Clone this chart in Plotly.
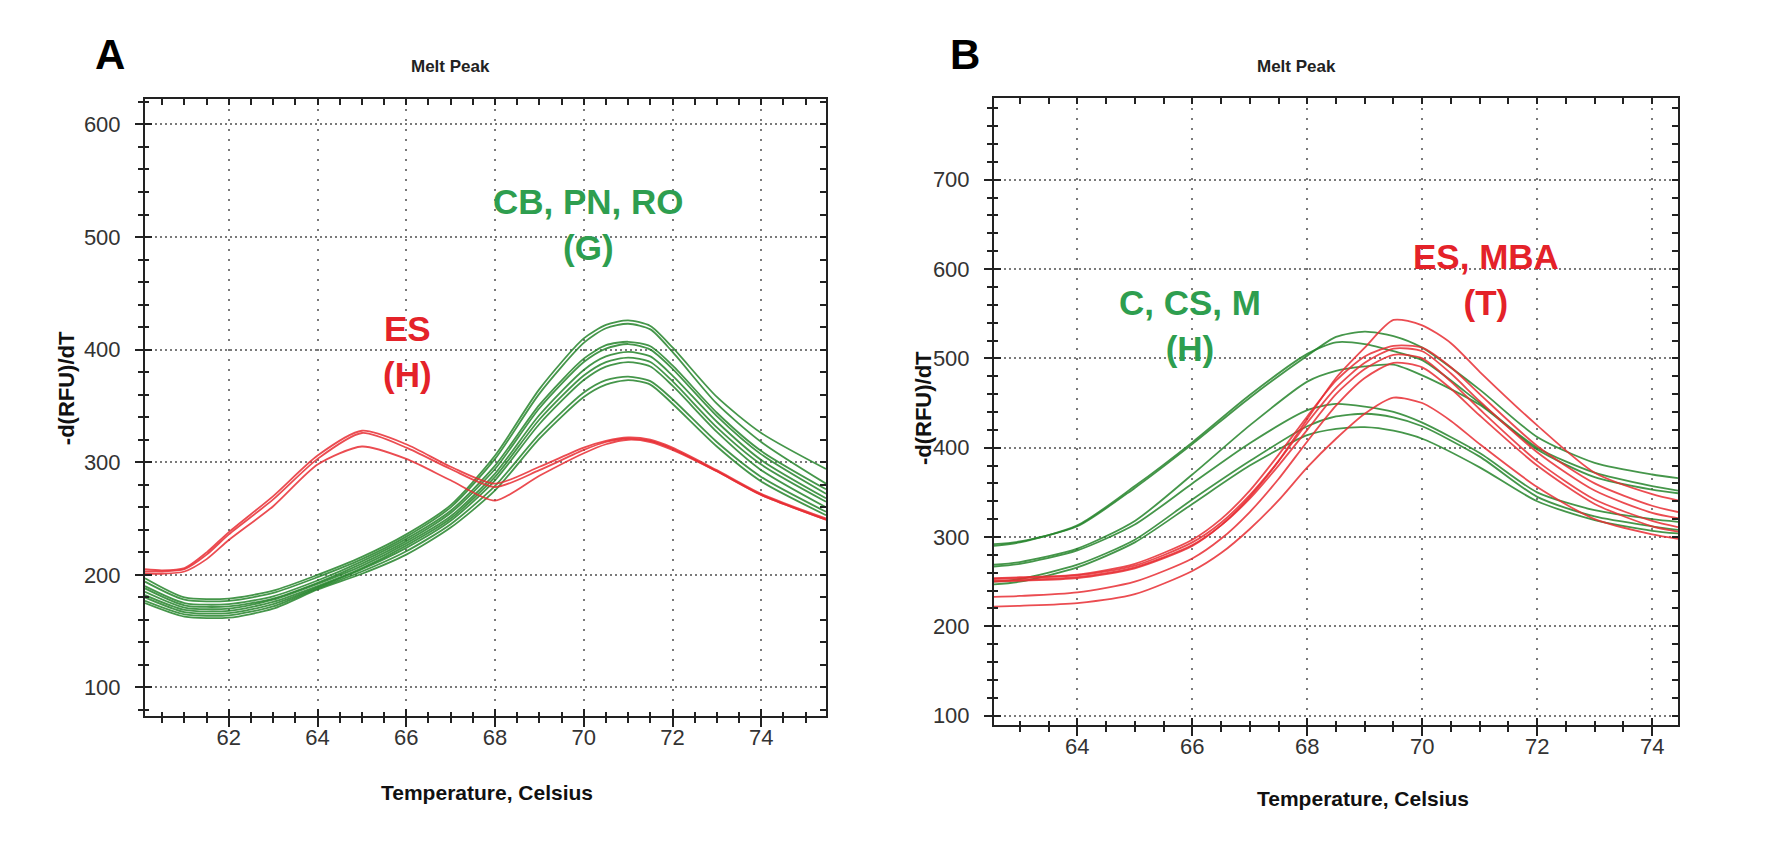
import plotly.graph_objects as go

W, H = 1786, 858

# ---------------- Panel A data ----------------
tempA_green = [60.11, 61.0, 62, 63, 64, 65, 66, 67, 68, 69, 70, 70.5, 71, 71.5, 72, 73, 74, 75.46]
greenA_1 = [197, 180, 179, 186, 200, 216, 236, 262, 306, 365, 410, 422, 426, 421, 402, 358, 326, 294]
greenA_2 = [194, 178, 177, 184, 198, 214, 234, 260, 303, 361, 406, 419, 423, 418, 398, 352, 318, 281]
greenA_3 = [190, 175, 174, 181, 195, 212, 232, 257, 297, 351, 392, 404, 407, 403, 386, 344, 310, 276]
greenA_4 = [188, 173, 172, 179, 193, 210, 230, 255, 294, 348, 389, 401, 405, 400, 383, 341, 307, 272]
greenA_5 = [185, 171, 170, 178, 192, 208, 228, 252, 290, 342, 382, 394, 398, 394, 377, 336, 302, 268]
greenA_6 = [182, 169, 168, 176, 190, 206, 226, 250, 287, 338, 377, 389, 393, 389, 372, 331, 298, 265]
greenA_7 = [180, 167, 166, 174, 189, 205, 224, 248, 284, 334, 373, 385, 389, 385, 368, 327, 293, 260]
greenA_8 = [177, 165, 164, 172, 188, 203, 221, 245, 279, 325, 362, 373, 376, 372, 356, 318, 287, 256]
greenA_9 = [175, 163, 162, 170, 187, 201, 218, 242, 275, 321, 358, 369, 373, 369, 352, 314, 283, 253]

tempA_red = [60.11, 60.5, 61, 61.5, 62, 63, 64, 65, 66, 67, 68, 69, 70, 70.5, 71, 71.5, 72, 73, 74, 75.46]
redA_1 = [205, 204, 206, 220, 238, 270, 306, 328, 316, 296, 281, 296, 313, 319, 322, 320, 313, 293, 272, 250]
redA_2 = [203, 203, 205, 218, 236, 267, 303, 326, 313, 294, 278, 293, 311, 318, 321, 319, 312, 292, 271, 249]
redA_3 = [201, 201, 203, 214, 231, 261, 298, 314, 303, 284, 266, 288, 308, 316, 320, 318, 311, 292, 271, 249]

# ---------------- Panel B data ----------------
tempB_green = [62.55, 63, 64, 65, 66, 67, 68, 68.5, 69, 69.5, 70, 71, 72, 73, 74, 74.45]
greenB_1 = [292, 295, 312, 355, 404, 456, 503, 524, 530, 525, 512, 465, 412, 383, 370, 366]
greenB_2 = [290, 294, 313, 357, 406, 459, 505, 518, 516, 508, 498, 450, 400, 372, 357, 352]
greenB_3 = [269, 272, 287, 318, 370, 425, 474, 486, 491, 493, 481, 448, 398, 367, 353, 349]
greenB_4 = [267, 270, 285, 314, 360, 405, 442, 449, 446, 440, 428, 394, 350, 330, 320, 317]
greenB_5 = [250, 253, 269, 297, 342, 385, 424, 435, 438, 434, 424, 390, 345, 323, 312, 308]
greenB_6 = [247, 250, 266, 294, 337, 380, 414, 421, 423, 419, 410, 378, 340, 319, 307, 304]

tempB_red = [62.55, 63, 64, 65, 66, 66.5, 67, 67.5, 68, 68.5, 69, 69.5, 70, 70.5, 71, 72, 73, 74, 74.45]
redB_1 = [250, 251, 254, 265, 290, 313, 345, 385, 432, 478, 512, 543, 537, 517, 485, 425, 372, 348, 341]
redB_2 = [254, 255, 258, 270, 297, 320, 352, 392, 435, 475, 502, 514, 512, 490, 460, 402, 360, 335, 328]
redB_3 = [253, 254, 257, 268, 294, 316, 347, 385, 428, 467, 495, 511, 508, 483, 452, 395, 352, 327, 321]
redB_4 = [251, 252, 255, 266, 291, 313, 343, 380, 420, 460, 488, 504, 500, 474, 443, 385, 342, 318, 311]
redB_5 = [233, 234, 238, 250, 276, 298, 328, 365, 407, 447, 478, 495, 490, 466, 436, 380, 337, 312, 306]
redB_6 = [222, 223, 226, 236, 262, 282, 309, 341, 378, 410, 438, 456, 450, 430, 404, 356, 320, 303, 298]

x_ticks_A = [62, 64, 66, 68, 70, 72, 74]
y_ticks_A = [100, 200, 300, 400, 500, 600]
x_ticks_B = [64, 66, 68, 70, 72, 74]
y_ticks_B = [100, 200, 300, 400, 500, 600, 700]
x_range_A = [60.11, 75.46]
y_range_A = [75, 623]
x_range_B = [62.55, 74.45]
y_range_B = [90, 792]

GREEN_LINE = "rgba(36,132,42,0.85)"
RED_LINE = "rgba(232,45,50,0.85)"
GREEN_TEXT = "#2e9e4f"
RED_TEXT = "#e42229"
AXC = "#222222"
GRIDC = "#7a7a7a"
TICKFONT = dict(family="Liberation Sans Narrow, Arial Narrow, Liberation Sans, Arial", size=22, color="#333333")

fig = go.Figure()

def add_lines(xs, series, color, xa, ya):
    for ys in series:
        fig.add_trace(go.Scatter(x=xs, y=ys, mode="lines", xaxis=xa, yaxis=ya,
                                 line=dict(color=color, width=1.8, shape="spline", smoothing=0.7),
                                 showlegend=False, hoverinfo="skip"))

add_lines(tempA_green, [greenA_1, greenA_2, greenA_3, greenA_4, greenA_5, greenA_6, greenA_7, greenA_8, greenA_9], GREEN_LINE, "x", "y")
add_lines(tempA_red, [redA_1, redA_2, redA_3], RED_LINE, "x", "y")
add_lines(tempB_green, [greenB_1, greenB_2, greenB_3, greenB_4, greenB_5, greenB_6], GREEN_LINE, "x2", "y2")
add_lines(tempB_red, [redB_1, redB_2, redB_3, redB_4, redB_5, redB_6], RED_LINE, "x2", "y2")

# invisible traces to instantiate the overlay axes (inside ticks / frame)
for xa, ya in [("x3", "y"), ("x5", "y"), ("x", "y3"), ("x", "y5"),
               ("x4", "y2"), ("x6", "y2"), ("x2", "y4"), ("x2", "y6")]:
    fig.add_trace(go.Scatter(x=[None], y=[None], xaxis=xa, yaxis=ya, mode="lines",
                             showlegend=False, hoverinfo="skip"))

def main_x(domain, rng, ticks, anchor):
    return dict(domain=domain, range=rng, anchor=anchor, tickvals=ticks,
                ticks="outside", ticklen=9, tickwidth=2, tickcolor=AXC,
                showline=True, linewidth=2, linecolor=AXC,
                showgrid=True, gridcolor=GRIDC, gridwidth=1.6, griddash="2px,8px",
                zeroline=False, tickfont=TICKFONT, ticklabelstandoff=-8,
                minor=dict(dtick=0.5, tick0=0, ticks="outside", ticklen=5, tickwidth=1.5,
                           tickcolor=AXC, showgrid=False))

def main_y(domain, rng, ticks, anchor):
    return dict(domain=domain, range=rng, anchor=anchor, tickvals=ticks,
                ticks="outside", ticklen=8, tickwidth=2, tickcolor=AXC,
                showline=True, linewidth=2, linecolor=AXC,
                showgrid=True, gridcolor=GRIDC, gridwidth=1.6, griddash="2px,3px",
                zeroline=False, tickfont=TICKFONT, ticklabelstandoff=10,
                minor=dict(dtick=20, tick0=0, ticks="outside", ticklen=5, tickwidth=1.5,
                           tickcolor=AXC, showgrid=False))

def overlay_x(over, rng, ticks, anchor, side, ticklen, minorlen, line):
    return dict(overlaying=over, range=rng, anchor=anchor, side=side, tickvals=ticks,
                ticks="inside", ticklen=ticklen, tickwidth=2, tickcolor=AXC,
                showline=line, linewidth=2, linecolor=AXC, mirror=False,
                showgrid=False, zeroline=False, showticklabels=False,
                minor=dict(dtick=0.5, tick0=0, ticks="inside", ticklen=minorlen, tickwidth=1.5,
                           tickcolor=AXC, showgrid=False))

def overlay_y(over, rng, ticks, anchor, side, ticklen, minorlen, line):
    return dict(overlaying=over, range=rng, anchor=anchor, side=side, tickvals=ticks,
                ticks="inside", ticklen=ticklen, tickwidth=2, tickcolor=AXC,
                showline=line, linewidth=2, linecolor=AXC, mirror=False,
                showgrid=False, zeroline=False, showticklabels=False,
                minor=dict(dtick=20, tick0=0, ticks="inside", ticklen=minorlen, tickwidth=1.5,
                           tickcolor=AXC, showgrid=False))

domA_x = [145 / W, 826 / W]
domA_y = [1 - 719 / H, 1 - 99 / H]
domB_x = [994 / W, 1678 / W]
domB_y = [1 - 728 / H, 1 - 98 / H]

fig.update_layout(
    width=W, height=H, margin=dict(l=0, r=0, t=0, b=0),
    paper_bgcolor="white", plot_bgcolor="white", showlegend=False,
    xaxis=main_x(domA_x, x_range_A, x_ticks_A, "y"),
    yaxis=main_y(domA_y, y_range_A, y_ticks_A, "x"),
    xaxis2=main_x(domB_x, x_range_B, x_ticks_B, "y2"),
    yaxis2=main_y(domB_y, y_range_B, y_ticks_B, "x2"),
    xaxis3=overlay_x("x", x_range_A, x_ticks_A, "y", "bottom", 7, 4, False),
    xaxis5=overlay_x("x", x_range_A, x_ticks_A, "y", "top", 6, 6, True),
    yaxis3=overlay_y("y", y_range_A, y_ticks_A, "x", "left", 7, 4, False),
    yaxis5=overlay_y("y", y_range_A, y_ticks_A, "x", "right", 6, 6, True),
    xaxis4=overlay_x("x2", x_range_B, x_ticks_B, "y2", "bottom", 7, 4, False),
    xaxis6=overlay_x("x2", x_range_B, x_ticks_B, "y2", "top", 6, 6, True),
    yaxis4=overlay_y("y2", y_range_B, y_ticks_B, "x2", "left", 7, 4, False),
    yaxis6=overlay_y("y2", y_range_B, y_ticks_B, "x2", "right", 6, 6, True),
)

def ann(text, px, py, size, color, bold=True, family="Liberation Sans, Arial", angle=0):
    fig.add_annotation(x=px / W, y=1 - py / H, xref="paper", yref="paper",
                       text=f"<b>{text}</b>" if bold else text, showarrow=False,
                       xanchor="center", yanchor="middle", textangle=angle,
                       font=dict(family=family, size=size, color=color))

NARROW = "Liberation Sans Narrow, Arial Narrow, Liberation Sans, Arial"
ann("A", 110, 55, 42, "black")
ann("B", 965, 55, 42, "black")
ann("Melt Peak", 450, 67, 17, "#222222", family=NARROW)
ann("Melt Peak", 1296, 67, 17, "#222222", family=NARROW)
ann("Temperature, Celsius", 487, 796, 21, "#111111")
ann("Temperature, Celsius", 1363, 802, 21, "#111111")
ann("-d(RFU)/dT", 66, 390, 22, "#111111", angle=-90)
ann("-d(RFU)/dT", 923, 410, 22, "#111111", angle=-90)

ann("CB, PN, RO<br>(G)", 588, 226, 35, GREEN_TEXT)
ann("ES<br>(H)", 407, 353, 35, RED_TEXT)
ann("C, CS, M<br>(H)", 1190, 327, 35, GREEN_TEXT)
ann("ES, MBA<br>(T)", 1486, 281, 35, RED_TEXT)

fig.write_html("out.html")
